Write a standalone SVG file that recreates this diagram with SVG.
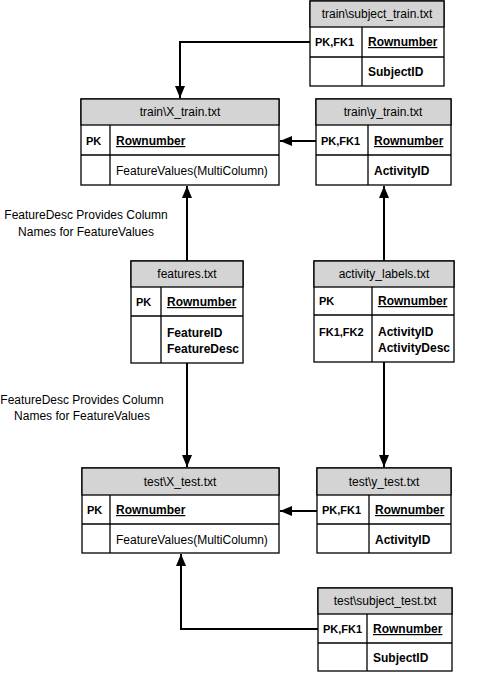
<svg xmlns="http://www.w3.org/2000/svg" width="489" height="673" viewBox="0 0 489 673">
<style>
.box{fill:#fff;stroke:#000;stroke-width:1.3}
.hdr{fill:#d4d4d4;stroke:#000;stroke-width:1.3}
.ln{stroke:#000;stroke-width:1.3}
text{font-family:"Liberation Sans",Arial,sans-serif;font-size:12px;fill:#000}
.h{text-anchor:middle}
.b{font-weight:bold}
.k{font-weight:bold;font-size:11px}
.u{font-weight:bold;text-decoration:underline}
.note{text-anchor:middle;font-size:12px}
.con{fill:none;stroke:#000;stroke-width:2}
</style>
<defs>
<marker id="arr" viewBox="0 0 12 10" refX="12" refY="5" markerWidth="12" markerHeight="10" markerUnits="userSpaceOnUse" orient="auto">
<path d="M0,0 L12,5 L0,10 z" fill="#000"/>
</marker>
</defs>
<rect width="489" height="673" fill="#fff"/>

<g id="connectors">
<path class="con" d="M310,42 H180 V98" marker-end="url(#arr)"/>
<path class="con" d="M316,141 H280" marker-end="url(#arr)"/>
<path class="con" d="M187,261 V186" marker-end="url(#arr)"/>
<path class="con" d="M384,261 V186" marker-end="url(#arr)"/>
<path class="con" d="M187,363 V467" marker-end="url(#arr)"/>
<path class="con" d="M384,362 V467" marker-end="url(#arr)"/>
<path class="con" d="M317,511 H280" marker-end="url(#arr)"/>
<path class="con" d="M318,629 H181 V554" marker-end="url(#arr)"/>
</g>

<g id="subject_train">
<rect class="box" x="310" y="1" width="134" height="85"/>
<rect class="hdr" x="310" y="1" width="134" height="26"/>
<line class="ln" x1="310" y1="57" x2="444" y2="57"/>
<line class="ln" x1="362" y1="27" x2="362" y2="86"/>
<text class="h" x="377" y="18">train\subject_train.txt</text>
<text class="k" x="315" y="46">PK,FK1</text>
<text class="u" x="368" y="46">Rownumber</text>
<text class="b" x="368" y="76">SubjectID</text>
</g>

<g id="X_train">
<rect class="box" x="81" y="99" width="198" height="86"/>
<rect class="hdr" x="81" y="99" width="198" height="26"/>
<line class="ln" x1="81" y1="155" x2="279" y2="155"/>
<line class="ln" x1="110" y1="125" x2="110" y2="185"/>
<text class="h" x="180" y="116">train\X_train.txt</text>
<text class="k" x="86" y="145">PK</text>
<text class="u" x="116" y="145">Rownumber</text>
<text x="116" y="175">FeatureValues(MultiColumn)</text>
</g>

<g id="y_train">
<rect class="box" x="316" y="99" width="135" height="86"/>
<rect class="hdr" x="316" y="99" width="135" height="26"/>
<line class="ln" x1="316" y1="155" x2="451" y2="155"/>
<line class="ln" x1="368" y1="125" x2="368" y2="185"/>
<text class="h" x="383" y="116">train\y_train.txt</text>
<text class="k" x="321" y="145">PK,FK1</text>
<text class="u" x="374" y="145">Rownumber</text>
<text class="b" x="374" y="175">ActivityID</text>
</g>

<g id="note1">
<text class="note" x="86" y="219">FeatureDesc Provides Column</text>
<text class="note" x="86" y="236">Names for FeatureValues</text>
</g>

<g id="features">
<rect class="box" x="131" y="261" width="112" height="102"/>
<rect class="hdr" x="131" y="261" width="112" height="26"/>
<line class="ln" x1="131" y1="316" x2="243" y2="316"/>
<line class="ln" x1="161" y1="287" x2="161" y2="363"/>
<text class="h" x="187" y="278">features.txt</text>
<text class="k" x="136" y="306">PK</text>
<text class="u" x="167" y="306">Rownumber</text>
<text class="b" x="167" y="337">FeatureID</text>
<text class="b" x="167" y="353">FeatureDesc</text>
</g>

<g id="activity_labels">
<rect class="box" x="314" y="261" width="140" height="101"/>
<rect class="hdr" x="314" y="261" width="140" height="26"/>
<line class="ln" x1="314" y1="315" x2="454" y2="315"/>
<line class="ln" x1="372" y1="287" x2="372" y2="362"/>
<text class="h" x="384" y="278">activity_labels.txt</text>
<text class="k" x="319" y="305">PK</text>
<text class="u" x="378" y="305">Rownumber</text>
<text class="k" x="319" y="336">FK1,FK2</text>
<text class="b" x="378" y="336">ActivityID</text>
<text class="b" x="378" y="352">ActivityDesc</text>
</g>

<g id="note2">
<text class="note" x="82" y="404">FeatureDesc Provides Column</text>
<text class="note" x="82" y="420">Names for FeatureValues</text>
</g>

<g id="X_test">
<rect class="box" x="82" y="468" width="197" height="85"/>
<rect class="hdr" x="82" y="468" width="197" height="27"/>
<line class="ln" x1="82" y1="524" x2="279" y2="524"/>
<line class="ln" x1="110" y1="495" x2="110" y2="553"/>
<text class="h" x="180" y="486">test\X_test.txt</text>
<text class="k" x="87" y="514">PK</text>
<text class="u" x="116" y="514">Rownumber</text>
<text x="116" y="544">FeatureValues(MultiColumn)</text>
</g>

<g id="y_test">
<rect class="box" x="317" y="468" width="134" height="85"/>
<rect class="hdr" x="317" y="468" width="134" height="27"/>
<line class="ln" x1="317" y1="524" x2="451" y2="524"/>
<line class="ln" x1="369" y1="495" x2="369" y2="553"/>
<text class="h" x="384" y="486">test\y_test.txt</text>
<text class="k" x="322" y="514">PK,FK1</text>
<text class="u" x="375" y="514">Rownumber</text>
<text class="b" x="375" y="544">ActivityID</text>
</g>

<g id="subject_test">
<rect class="box" x="318" y="588" width="134" height="83"/>
<rect class="hdr" x="318" y="588" width="134" height="26"/>
<line class="ln" x1="318" y1="643" x2="452" y2="643"/>
<line class="ln" x1="367" y1="614" x2="367" y2="671"/>
<text class="h" x="385" y="605">test\subject_test.txt</text>
<text class="k" x="323" y="633">PK,FK1</text>
<text class="u" x="373" y="633">Rownumber</text>
<text class="b" x="373" y="662">SubjectID</text>
</g>
</svg>
